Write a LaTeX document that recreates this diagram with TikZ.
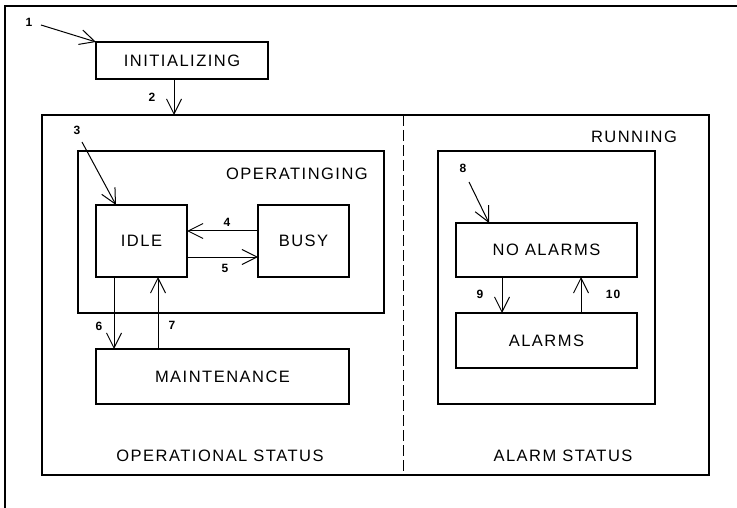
\documentclass[tikz,border=0pt]{standalone}
\usepackage{fontspec}
\setmainfont{Liberation Sans}[LetterSpace=9]
\usetikzlibrary{arrows.meta}
\begin{document}
\begin{tikzpicture}[x=1pt,y=-1pt,
  box/.style={draw,line width=1.5pt,anchor=north west,inner sep=0pt,outer sep=0pt,
    font=\fontsize{16.5}{19}\selectfont},
  lbl/.style={font=\fontsize{16.5}{19}\selectfont,inner sep=0pt},
  num/.style={font=\fontsize{12}{14}\selectfont\bfseries,inner sep=0pt},
  arr/.style={-{Straight Barb[length=15pt,width=15pt]},line width=1pt},
  frame/.style={line width=1.5pt}]
\useasboundingbox (0,0) rectangle (737,508);
% outer frame (cropped)
\draw[frame] (5,508) -- (5,6) -- (737,6);
% boxes
\node[box,minimum width=172pt,minimum height=37pt] (init) at (96,42) {INITIALIZING};
\node[box,minimum width=667pt,minimum height=360pt] (running) at (42,115) {};
\node[box,minimum width=306pt,minimum height=162pt] (oper) at (78,151) {};
\node[box,minimum width=91pt,minimum height=72pt] (idle) at (96,205) {IDLE};
\node[box,minimum width=91pt,minimum height=72pt] (busy) at (258,205) {BUSY};
\node[box,minimum width=253pt,minimum height=55pt] (maint) at (96,349) {MAINTENANCE};
\node[box,minimum width=217pt,minimum height=253pt] (alarmbox) at (438,151) {};
\node[box,minimum width=181pt,minimum height=54pt] (noal) at (456,223) {NO ALARMS};
\node[box,minimum width=181pt,minimum height=55pt] (alarms) at (456,313) {ALARMS};
% region separator
\coordinate (sep) at (403,0);
\draw[line width=1pt,dash pattern=on 11pt off 4pt] (running.north -| sep) -- (running.south -| sep);
% labels
\node[lbl,anchor=east] (operlbl) at (368,174) {OPERATINGING};
\node[lbl] (runlbl) at (634,137) {RUNNING};
\node[lbl] (opstat) at (220,456) {OPERATIONAL STATUS};
\node[lbl] (alstat) at (563,456) {ALARM STATUS};
% connector coordinates
\coordinate (s1) at (41,25);
\coordinate (s3) at (82,142);
\coordinate (s8) at (469,182);
\coordinate (x2) at (174,0);
\coordinate (x3) at (116,0);
\coordinate (y4) at (0,231);
\coordinate (y5) at (0,257);
\coordinate (x6) at (114,0);
\coordinate (x7) at (158,0);
\coordinate (x8) at (489,0);
\coordinate (x9) at (502,0);
\coordinate (x10) at (581,0);
% connectors
\draw[arr] (s1) -- (init.north west);
\draw[arr] (init.south -| x2) -- (running.north -| x2);
\draw[arr] (s3) -- (idle.north -| x3);
\draw[arr] (busy.west |- y4) -- (idle.east |- y4);
\draw[arr] (idle.east |- y5) -- (busy.west |- y5);
\draw[arr] (idle.south -| x6) -- (maint.north -| x6);
\draw[arr] (maint.north -| x7) -- (idle.south -| x7);
\draw[arr] (s8) -- (noal.north -| x8);
\draw[arr] (noal.south -| x9) -- (alarms.north -| x9);
\draw[arr] (alarms.north -| x10) -- (noal.south -| x10);
% numbers
\node[num] (n1) at (29,22) {1};
\node[num] (n2) at (152,97) {2};
\node[num] (n3) at (77,130) {3};
\node[num] (n4) at (227,222) {4};
\node[num] (n5) at (225,268) {5};
\node[num] (n6) at (99,326) {6};
\node[num] (n7) at (172,325) {7};
\node[num] (n8) at (463,168) {8};
\node[num] (n9) at (480,294) {9};
\node[num] (n10) at (613,294) {10};
\end{tikzpicture}
\end{document}
